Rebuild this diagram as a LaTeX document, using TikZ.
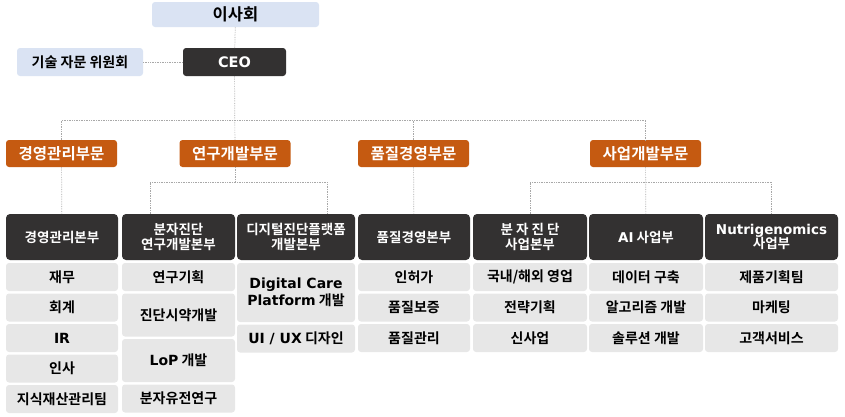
\documentclass[tikz,border=0pt]{standalone}
\usepackage{fontspec}
\setmainfont{Noto Sans CJK KR}[BoldFont={Noto Sans CJK KR Bold}]
\newfontfamily\lat{DejaVu Sans}
\usepackage{tikz}
\usetikzlibrary{positioning}
\definecolor{boardblue}{HTML}{DAE3F3}
\definecolor{boxdark}{HTML}{333131}
\definecolor{divorange}{HTML}{C55A11}
\definecolor{teamgray}{HTML}{E7E7E7}
\definecolor{linkgray}{HTML}{A8A8A8}
\tikzset{
    box/.style={inner sep=0pt, outer sep=0pt, align=center, rounded corners=3pt},
    board/.style={box, fill=boardblue, minimum height=25pt, font=\bfseries\fontsize{16.5}{18}\selectfont},
    ceo/.style={box, fill=boxdark, text=white, minimum width=103pt, minimum height=28pt, font=\lat\bfseries\fontsize{14.5}{16}\selectfont},
    division/.style={box, fill=divorange, text=white, minimum width=111pt, minimum height=27pt, font=\bfseries\fontsize{15.5}{17}\selectfont},
    hq/.style={box, fill=boxdark, text=white, minimum width=#1, minimum height=46pt, rounded corners=4pt, font=\bfseries\fontsize{13.5}{14.5}\selectfont},
    hq/.default=112pt,
    team/.style={box, fill=teamgray, minimum width=#1, minimum height=28pt, font=\bfseries\fontsize{14}{17}\selectfont},
    team/.default=112pt,
    link/.style={densely dotted, linkgray, line width=0.7pt}
}

\begin{document}
\begin{tikzpicture}[x=1pt, y=-1pt]
\useasboundingbox (0,0) rectangle (845,416);

% top
\node[board, minimum width=167pt] (BRD) at (235.5,14.5) {이사회};
\node[ceo] (CEO) at (234.5,62) {CEO};
\node[board, minimum width=126pt, minimum height=28pt, font=\bfseries\fontsize{14}{16}\selectfont] (ADV) at (80,62) {기술 자문 위원회};

% divisions
\node[division] (MG) at (61.5,153.5) {경영관리부문};
\node[division] (RD) at (235,153.5) {연구개발부문};
\node[division] (QM) at (413.5,153.5) {품질경영부문};
\node[division] (BD) at (645.5,153.5) {사업개발부문};

% headquarters
\node[hq=112pt] (MGH) at (62,237) {경영관리본부};
\node[hq=113pt] (RDH) at (178.5,237) {분자진단\\연구개발본부};
\node[hq=118pt] (DPH) at (296,237) {디지털진단플랫폼\\개발본부};
\node[hq=112pt] (QMH) at (414,237) {품질경영본부};
\node[hq=114pt] (MDH) at (530,237) {분 자 진 단\\사업본부};
\node[hq=114pt] (AIH) at (646,237) {{\lat AI} 사업부};
\node[hq=133pt] (NGH) at (771.5,237) {{\lat Nutrigenomics}\\사업부};

% teams
\node[team=112pt, below=3pt of MGH] (MG1) {재무};
\node[team=112pt, below=2.5pt of MG1] (MG2) {회계};
\node[team=112pt, below=2.5pt of MG2] (MG3) {\lat IR};
\node[team=112pt, below=2.5pt of MG3] (MG4) {인사};
\node[team=112pt, below=2.5pt of MG4] (MG5) {지식재산관리팀};

\node[team=113pt, below=3pt of RDH] (RD1) {연구기획};
\node[team=113pt, minimum height=43pt, below=2.5pt of RD1] (RD2) {진단시약개발};
\node[team=113pt, minimum height=43pt, below=2.5pt of RD2] (RD3) {{\lat LoP} 개발};
\node[team=113pt, below=2.5pt of RD3] (RD4) {분자유전연구};

\node[team=118pt, minimum height=59pt, below=3pt of DPH] (DP1) {{\lat Digital Care}\\{\lat Platform} 개발};
\node[team=118pt, below=2.5pt of DP1] (DP2) {{\lat UI / UX} 디자인};

\node[team=112pt, below=3pt of QMH] (QM1) {인허가};
\node[team=112pt, below=2.5pt of QM1] (QM2) {품질보증};
\node[team=112pt, below=2.5pt of QM2] (QM3) {품질관리};

\node[team=114pt, below=3pt of MDH] (MD1) {국내/해외 영업};
\node[team=114pt, below=2.5pt of MD1] (MD2) {전략기획};
\node[team=114pt, below=2.5pt of MD2] (MD3) {신사업};

\node[team=114pt, below=3pt of AIH] (AI1) {데이터 구축};
\node[team=114pt, below=2.5pt of AI1] (AI2) {알고리즘 개발};
\node[team=114pt, below=2.5pt of AI2] (AI3) {솔루션 개발};

\node[team=133pt, below=3pt of NGH] (NG1) {제품기획팀};
\node[team=133pt, below=2.5pt of NG1] (NG2) {마케팅};
\node[team=133pt, below=2.5pt of NG2] (NG3) {고객서비스};

% connectors
\coordinate (bus) at (235,120);
\coordinate (rl) at (150,182);
\coordinate (rr) at (327,182);
\coordinate (bbus) at (646,182);
\draw[link] (BRD) -- (CEO);
\draw[link] (ADV) -- (CEO);
\draw[link] (CEO) -- (RD);
\draw[link] (MG.north) |- (bus) -| (BD.north);
\draw[link] (QM.north) -- (QM.north |- bus);
\draw[link] (MG) -- (MGH);
\draw[link] (RD.south) -- (RD.south |- rl);
\draw[link] (rl |- RDH.north) -- (rl) -- (rr) -- (rr |- DPH.north);
\draw[link] (QM) -- (QMH);
\draw[link] (BD) -- (AIH);
\draw[link] (MDH.north) |- (bbus) -| (NGH.north);
\end{tikzpicture}
\end{document}
